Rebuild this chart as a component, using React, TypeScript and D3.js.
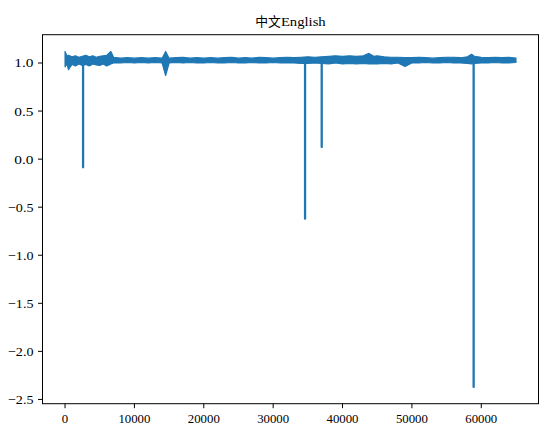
import React from "react";
import * as d3 from "d3";

// Envelope of the dense noisy signal (x in samples, hi/lo values)
const envX = [0, 300, 500, 1000, 1500, 2000, 2500, 3000, 3500, 4000, 4500, 5000, 5500, 6000, 6600, 7000, 8000, 9000, 10000, 11000, 12000, 13000, 14000, 14500, 15000, 16000, 17000, 18000, 19000, 20000, 21000, 22000, 23000, 24000, 25000, 26000, 27000, 28000, 29000, 30000, 31000, 32000, 33000, 34000, 35000, 36000, 37000, 38000, 39000, 40000, 41000, 42000, 43000, 43800, 44500, 45000, 46000, 47000, 48000, 49000, 50000, 51000, 52000, 53000, 54000, 55000, 56000, 57000, 58000, 58600, 59000, 60000, 61000, 62000, 63000, 64000, 65000];
const envHi = [1.12, 1.07, 1.08, 1.065, 1.075, 1.06, 1.07, 1.08, 1.065, 1.075, 1.06, 1.07, 1.075, 1.08, 1.12, 1.06, 1.05, 1.055, 1.05, 1.055, 1.05, 1.055, 1.05, 1.12, 1.05, 1.055, 1.06, 1.05, 1.055, 1.05, 1.055, 1.05, 1.055, 1.06, 1.05, 1.055, 1.05, 1.06, 1.055, 1.05, 1.055, 1.06, 1.055, 1.06, 1.065, 1.06, 1.065, 1.07, 1.075, 1.07, 1.075, 1.07, 1.075, 1.10, 1.07, 1.075, 1.065, 1.06, 1.06, 1.055, 1.055, 1.06, 1.055, 1.05, 1.055, 1.06, 1.06, 1.055, 1.065, 1.09, 1.07, 1.06, 1.055, 1.06, 1.055, 1.06, 1.05];
const envLo = [0.96, 0.99, 0.93, 0.985, 0.97, 0.99, 0.975, 0.985, 0.97, 0.99, 0.98, 0.975, 0.99, 0.97, 0.99, 1.0, 1.0, 1.005, 1.0, 1.005, 1.0, 1.005, 1.0, 0.87, 1.0, 1.005, 1.0, 1.005, 1.0, 1.0, 1.005, 1.0, 1.0, 1.005, 1.0, 1.0, 1.005, 1.0, 1.0, 1.005, 1.0, 1.0, 1.0, 0.995, 0.995, 1.0, 0.995, 0.99, 1.0, 0.99, 0.995, 0.99, 0.995, 0.99, 0.99, 0.99, 0.995, 0.99, 1.0, 0.965, 1.0, 1.0, 1.005, 1.0, 1.0, 1.005, 1.0, 1.0, 0.995, 0.99, 0.995, 1.0, 1.0, 1.005, 1.0, 1.0, 1.005];

// Large downward spikes
const spikeX = [2600, 34600, 37000, 58900];
const spikeMin = [-0.085, -0.62, 0.125, -2.37];
const spikeBase = 1.03;

const xTicks = [0, 10000, 20000, 30000, 40000, 50000, 60000];
const yTicks = [1.0, 0.5, 0.0, -0.5, -1.0, -1.5, -2.0, -2.5];
const title = ["中文", "English"];

const W = 550;
const H = 435;
const L = 42.5, R = 538.5, T = 34.7, B = 403.7;
const EM = 12.8;
const HALF = EM / 2;
const COLOR = "#1f77b4";
const LATIN = "'Liberation Serif', 'DejaVu Serif', serif";
const CJK = "'Noto Sans CJK SC', sans-serif";

export default function App() {
  const xMin = 0, xMax = 65000;
  const xPad = (xMax - xMin) * 0.05;
  const x = d3.scaleLinear().domain([xMin - xPad, xMax + xPad]).range([L, R]);
  const yLo = Math.min(...spikeMin), yHi = Math.max(...envHi);
  const yPad = (yHi - yLo) * 0.05;
  const y = d3.scaleLinear().domain([yLo - yPad, yHi + yPad]).range([B, T]);

  const env = envX.map((v, i) => ({ x: v, hi: envHi[i], lo: envLo[i] }));
  const area = d3
    .area<{ x: number; hi: number; lo: number }>()
    .x((d) => x(d.x))
    .y0((d) => y(d.lo))
    .y1((d) => y(d.hi));

  const fmtY = (v: number) => (v < 0 ? "\u2212" : "") + Math.abs(v).toFixed(1);
  const tickLen = 4.5;
  const pad = 4.5;

  const titleW = EM * 2 + HALF * 7;
  const titleX0 = (L + R) / 2 - titleW / 2;

  return (
    <svg
      width={W}
      height={H}
      style={{ position: "absolute", left: 0, top: 0, background: "#fff" }}
    >
      <rect x={0} y={0} width={W} height={H} fill="#fff" />
      <defs>
        <clipPath id="plot">
          <rect x={L} y={T} width={R - L} height={B - T} />
        </clipPath>
      </defs>
      <g clipPath="url(#plot)">
        <path d={area(env) || ""} fill={COLOR} stroke={COLOR} strokeWidth={1.2} strokeLinejoin="round" />
        {spikeX.map((sx, i) => (
          <line
            key={i}
            x1={x(sx)}
            x2={x(sx)}
            y1={y(spikeBase)}
            y2={y(spikeMin[i])}
            stroke={COLOR}
            strokeWidth={2.3}
            strokeLinecap="round"
          />
        ))}
      </g>
      <rect x={L} y={T} width={R - L} height={B - T} fill="none" stroke="#000" strokeWidth={1} />
      {xTicks.map((t) => (
        <g key={"x" + t}>
          <line x1={x(t)} x2={x(t)} y1={B} y2={B + tickLen} stroke="#000" strokeWidth={1} />
          <text
            x={x(t)}
            y={B + tickLen + pad + EM * 0.8}
            textAnchor="middle"
            fontFamily={LATIN}
            fontSize={EM * 1.05}
            textLength={String(t).length * HALF}
            lengthAdjust="spacingAndGlyphs"
            fill="#000"
          >
            {String(t)}
          </text>
        </g>
      ))}
      {yTicks.map((t) => {
        const s = fmtY(t);
        return (
          <g key={"y" + t}>
            <line x1={L - tickLen} x2={L} y1={y(t)} y2={y(t)} stroke="#000" strokeWidth={1} />
            <text
              x={L - tickLen - pad}
              y={y(t) + EM * 0.35}
              textAnchor="end"
              fontFamily={LATIN}
              fontSize={EM * 1.05}
              textLength={s.length * HALF}
              lengthAdjust="spacingAndGlyphs"
              fill="#000"
            >
              {s}
            </text>
          </g>
        );
      })}
      <text x={titleX0} y={26} fontFamily={CJK} fontSize={EM} fill="#000">
        {title[0]}
      </text>
      <text
        x={titleX0 + EM * 2}
        y={26}
        fontFamily={LATIN}
        fontSize={EM * 1.05}
        textLength={title[1].length * HALF}
        lengthAdjust="spacingAndGlyphs"
        fill="#000"
      >
        {title[1]}
      </text>
    </svg>
  );
}
